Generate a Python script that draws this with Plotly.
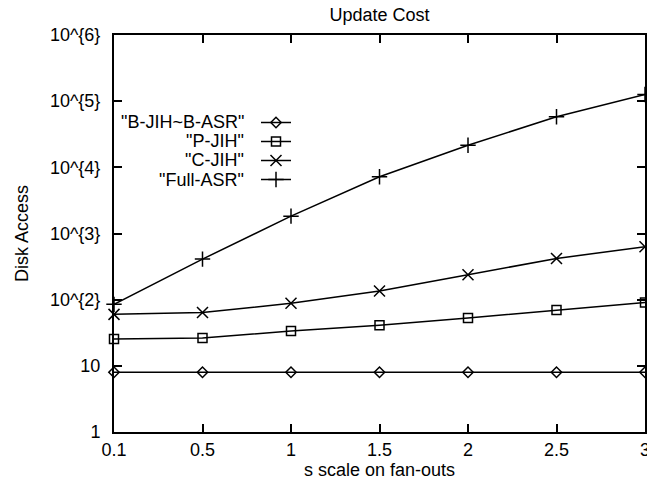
import plotly.graph_objects as go

x_labels = ["0.1", "0.5", "1", "1.5", "2", "2.5", "3"]
b_jih = [8, 8, 8, 8, 8, 8, 8]
p_jih = [25.5, 26.3, 33.6, 41, 53, 70, 91]
c_jih = [60, 64, 88, 135, 238, 420, 630]
full_asr = [85, 410, 1830, 7200, 21600, 58000, 126000]

series_names = ['"B-JIH~B-ASR"', '"P-JIH"', '"C-JIH"', '"Full-ASR"']
series_values = [b_jih, p_jih, c_jih, full_asr]
symbols = ["diamond-open", "square-open", "x-thin-open", "cross-thin-open"]
sizes = [8, 9, 11, 11]

y_tickvals = [1, 10, 100, 1000, 10000, 100000, 1000000]
y_ticktext = ["1", "10", "10^{2}", "10^{3}", "10^{4}", "10^{5}", "10^{6}"]

FONT = "Liberation Sans, Arial, Helvetica, sans-serif"
FS = 18

fig = go.Figure()
for name, vals, sym, sz in zip(series_names, series_values, symbols, sizes):
    fig.add_trace(go.Scatter(
        x=x_labels, y=vals, mode="lines+markers", name=" ",
        line=dict(color="black", width=1.5),
        marker=dict(symbol=sym, size=sz, color="black", line=dict(color="black", width=1.5)),
        cliponaxis=False,
    ))

# legend labels (gnuplot style: text left of sample)
leg_top = 122
leg_step = 19.2
for i, name in enumerate(series_names):
    py = leg_top + i * leg_step
    fig.add_annotation(
        text=name, xref="paper", yref="paper",
        x=(246 - 114) / 531, y=(432 - py) / 397,
        xanchor="right", yanchor="middle", showarrow=False,
        font=dict(family=FONT, size=FS, color="black"),
    )

fig.update_layout(
    width=647, height=481,
    margin=dict(l=114, r=2, t=35, b=49),
    paper_bgcolor="white", plot_bgcolor="white",
    font=dict(family=FONT, size=FS, color="black"),
    title=dict(text="Update Cost", x=(114 + 645) / 2 / 647, xanchor="center",
               y=1 - 15 / 481, yanchor="middle",
               font=dict(family=FONT, size=FS, color="black")),
    showlegend=True,
    legend=dict(x=(256 - 114) / 531, y=(432 - 108) / 397, xanchor="left", yanchor="top",
                bgcolor="rgba(0,0,0,0)", font=dict(size=12), traceorder="normal",
                itemwidth=30),
    xaxis=dict(
        type="category", range=[0, 6], automargin=False,
        showline=True, linecolor="black", linewidth=2, mirror="ticks",
        ticks="inside", ticklen=8, tickwidth=1.5, tickcolor="black",
        showgrid=False, zeroline=False,
        title=dict(text="s scale on fan-outs", standoff=2,
                   font=dict(family=FONT, size=FS)),
        tickfont=dict(family=FONT, size=FS),
    ),
    yaxis=dict(
        type="log", range=[0, 6], automargin=False,
        tickvals=y_tickvals, ticktext=y_ticktext,
        showline=True, linecolor="black", linewidth=2, mirror="ticks",
        ticks="inside", ticklen=8, tickwidth=1.5, tickcolor="black",
        showgrid=False, zeroline=False, ticklabelstandoff=8,
        title=dict(text="Disk Access", standoff=17,
                   font=dict(family=FONT, size=FS)),
        tickfont=dict(family=FONT, size=FS),
    ),
)

fig.write_html("out.html")
